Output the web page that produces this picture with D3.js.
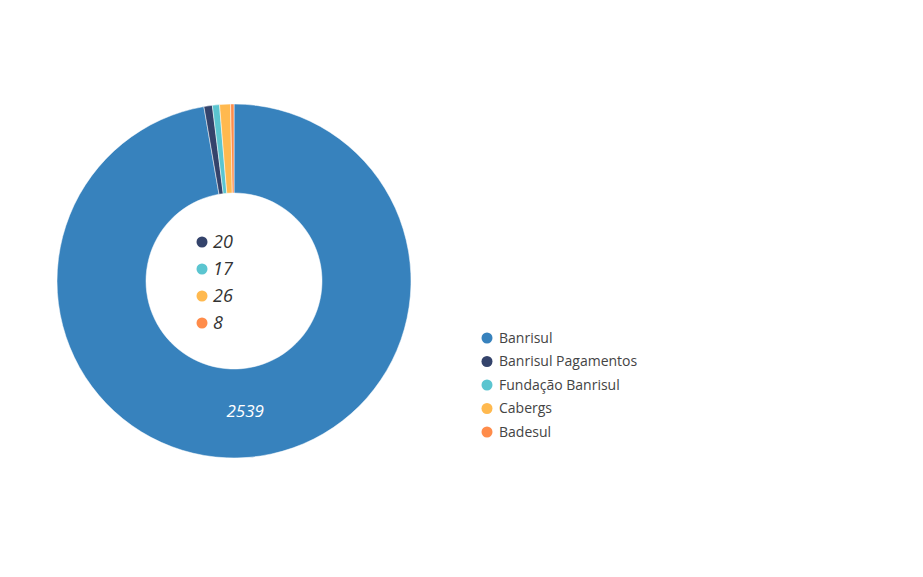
<!DOCTYPE html>
<html><head><meta charset="utf-8">
<script src="https://cdn.jsdelivr.net/npm/d3@7"></script>
<style>body{margin:0;background:#fff;font-family:"Open Sans",sans-serif;}</style>
</head><body><svg width="923" height="577"></svg>
<script>
var categories = ['Banrisul', 'Banrisul Pagamentos', 'Fundação Banrisul', 'Cabergs', 'Badesul'];
var values = [2539, 20, 17, 26, 8];
var colors = ['#3782bd', '#34436b', '#5bc5d0', '#ffb94f', '#ff8c4a'];

var svg = d3.select('svg');
var cx = 234, cy = 281, outerR = 177, innerR = 88;
var color = d3.scaleOrdinal().domain(categories).range(colors);
var data = categories.map(function (c, i) { return { name: c, value: values[i] }; });
var arcs = d3.pie().sort(null).value(function (d) { return d.value; })(data);
var arc = d3.arc().innerRadius(innerR).outerRadius(outerR);

var g = svg.append('g').attr('transform', 'translate(' + cx + ',' + cy + ')');
g.selectAll('path').data(arcs).enter().append('path')
    .attr('d', arc)
    .attr('fill', function (d) { return color(d.data.name); })
    .attr('stroke', '#fff').attr('stroke-width', 0.5);

// big slice label
var big = arcs[0];
var labelArc = d3.arc().innerRadius(outerR - 46).outerRadius(outerR - 46);
g.append('text')
    .attr('transform', 'translate(' + labelArc.centroid(big) + ')')
    .attr('text-anchor', 'middle').attr('dy', '0.35em')
    .attr('fill', '#fff').attr('font-size', 17).attr('font-style', 'italic')
    .text(big.data.value);

// small values listed inside the hole
var inner = g.selectAll('.inner').data(data.slice(1)).enter().append('g')
    .attr('transform', function (d, i) { return 'translate(-32,' + (-39 + i * 27) + ')'; });
inner.append('circle').attr('r', 5.5).attr('fill', function (d) { return color(d.name); });
inner.append('text').attr('x', 11).attr('dy', '0.35em')
    .attr('font-size', 18).attr('font-style', 'italic').attr('fill', '#333')
    .text(function (d) { return d.value; });

// legend
var leg = svg.selectAll('.leg').data(categories).enter().append('g')
    .attr('transform', function (d, i) { return 'translate(487,' + (338 + i * 23.5) + ')'; });
leg.append('circle').attr('r', 5.5).attr('fill', function (d) { return color(d); });
leg.append('text').attr('x', 12).attr('dy', '0.35em')
    .attr('font-size', 14).attr('fill', '#444').text(function (d) { return d; });
</script></body></html>
